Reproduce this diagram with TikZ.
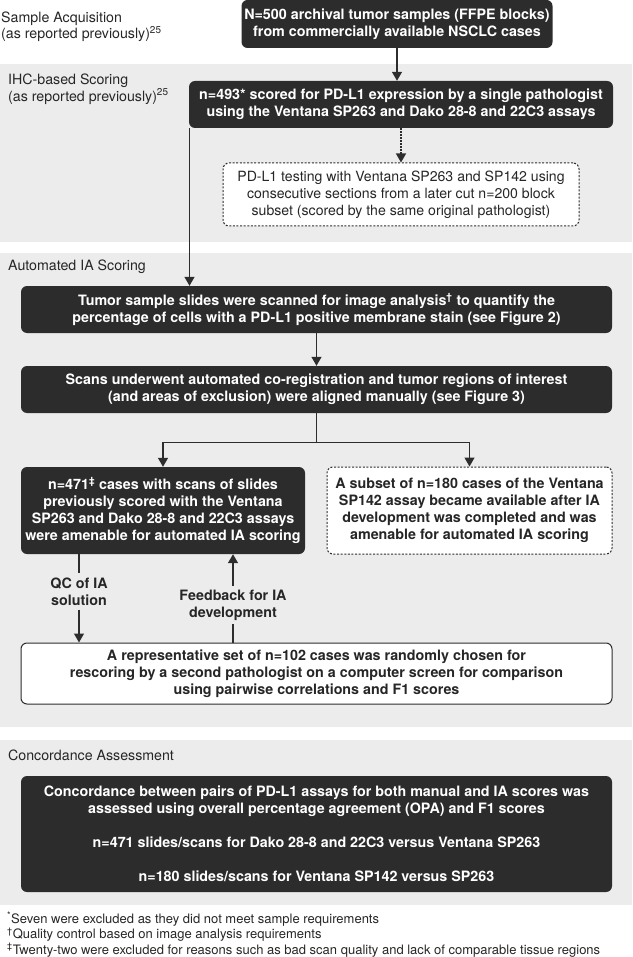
\documentclass[tikz,border=0pt]{standalone}
\usepackage{fontspec}
\setmainfont{TeX Gyre Heros}
\usetikzlibrary{shapes,arrows.meta}
\definecolor{bandgray}{RGB}{236,236,236}
\definecolor{boxdark}{RGB}{44,44,44}
\definecolor{linegray}{RGB}{45,45,45}
\newcommand{\boxfont}{\fontsize{14.3}{17}\selectfont\bfseries}
\newcommand{\plainfont}{\fontsize{14.1}{17}\selectfont}
\newcommand{\stagefont}{\fontsize{14.2}{16.5}\selectfont}
\newcommand{\notefont}{\fontsize{13}{15.5}\selectfont}
\tikzstyle{arrow} = [line width=1.3pt,draw=linegray,-{Triangle[width=10pt,length=9pt]}]
\tikzstyle{link} = [line width=1.3pt,draw=linegray]
\tikzstyle{darkbox} = [rectangle,rounded corners=6pt,fill=boxdark,text=white,inner sep=0pt,align=center,font=\boxfont]
\tikzstyle{dotbox} = [rectangle,rounded corners=6pt,fill=white,draw=linegray,line width=1pt,dash pattern=on 2pt off 1.6pt,inner sep=0pt,align=center,text=black!85]
\tikzstyle{linebox} = [rectangle,rounded corners=6pt,fill=white,draw=linegray,line width=1pt,inner sep=0pt,align=center,font=\boxfont,text=black!85]
\tikzstyle{stage} = [anchor=west,align=left,inner sep=0pt,font=\stagefont,text=black!85]
\tikzstyle{edgelabel} = [align=center,inner xsep=0pt,inner ysep=4pt,font=\boxfont,text=black!85]

\begin{document}
\begin{tikzpicture}[x=1pt,y=-1pt]
        \useasboundingbox (0,0) rectangle (632,957);

        % Grey bands behind the stages
        \fill[bandgray] (0,64) rectangle (632,242);
        \fill[bandgray] (0,253) rectangle (632,727);
        \fill[bandgray] (0,740) rectangle (632,905);

        % Stage titles on the left
        \node[stage] (stacq) at (1,26.5) {Sample Acquisition\\(as reported previously)\textsuperscript{25}};
        \node[stage] (stihc) at (8,89) {IHC-based Scoring\\(as reported previously)\textsuperscript{25}};
        \node[stage] (stia) at (8,267) {Automated IA Scoring};
        \node[stage] (stconc) at (8,755) {Concordance Assessment};

        % Sample acquisition
        \node[darkbox,minimum width=311pt,minimum height=48pt] (acq) at (397,24)
            {N=500 archival tumor samples (FFPE blocks)\\from commercially available NSCLC cases};

        % IHC-based scoring
        \node[darkbox,minimum width=424pt,minimum height=47pt] (ihc) at (401,104.5)
            {n=493* scored for PD-L1 expression by a single pathologist\\using the Ventana SP263 and Dako 28-8 and 22C3 assays};
        \node[dotbox,font=\plainfont,minimum width=356pt,minimum height=63pt] (later) at (401,194.5)
            {PD-L1 testing with Ventana SP263 and SP142 using\\consecutive sections from a later cut n=200 block\\subset (scored by the same original pathologist)};

        % Automated IA scoring
        \node[darkbox,minimum width=591pt,minimum height=47pt] (scan) at (316.5,309.5)
            {Tumor sample slides were scanned for image analysis\textsuperscript{†} to quantify the\\percentage of cells with a PD-L1 positive membrane stain (see Figure 2)};
        \node[darkbox,minimum width=591pt,minimum height=47pt] (coreg) at (316.5,389.5)
            {Scans underwent automated co-registration and tumor regions of interest\\(and areas of exclusion) were aligned manually (see Figure 3)};
        \node[darkbox,minimum width=284pt,minimum height=87pt] (amen) at (163,510.5)
            {n=471\textsuperscript{‡} cases with scans of slides\\previously scored with the Ventana\\SP263 and Dako 28-8 and 22C3 assays\\were amenable for automated IA scoring};
        \node[dotbox,font=\boxfont,minimum width=285pt,minimum height=87pt] (subset) at (469.5,510.5)
            {A subset of n=180 cases of the Ventana\\SP142 assay became available after IA\\development was completed and was\\amenable for automated IA scoring};
        \node[linebox,minimum width=591pt,minimum height=61pt] (rescore) at (316.5,673.5)
            {A representative set of n=102 cases was randomly chosen for\\rescoring by a second pathologist on a computer screen for comparison\\using pairwise correlations and F1 scores};
        \node[edgelabel] (qc) at (79,591.5) {QC of IA\\solution};
        \node[edgelabel] (fb) at (233,605) {Feedback for IA\\development};

        % Concordance assessment
        \node[darkbox,minimum width=591pt,minimum height=116pt] (conc) at (316.5,834)
            {Concordance between pairs of PD-L1 assays for both manual and IA scores was\\assessed using overall percentage agreement (OPA) and F1 scores\\[17pt]
             n=471 slides/scans for Dako 28-8 and 22C3 versus Ventana SP263\\[17pt]
             n=180 slides/scans for Ventana SP142 versus SP263};

        % Footnotes
        \node[stage,font=\notefont] (notes) at (7,934.5)
            {\textsuperscript{*}Seven were excluded as they did not meet sample requirements\\
             \textsuperscript{†}Quality control based on image analysis requirements\\
             \textsuperscript{‡}Twenty-two were excluded for reasons such as bad scan quality and lack of comparable tissue regions};

        % Connectors
        \draw[arrow] (acq.south) -- (acq.south |- ihc.north);
        \draw[arrow,dash pattern=on 1.5pt off 1.5pt] (ihc.south) -- (later.north);
        \draw[arrow] ([xshift=0.7pt]ihc.south west) -- ([xshift=0.7pt]ihc.south west |- scan.north);
        \draw[arrow] (scan.south) -- (coreg.north);
        \draw[link] (coreg.south) -- ++(0,29) coordinate (split);
        \draw[arrow] (split) -| (amen.north);
        \draw[arrow] (split) -| (subset.north);
        \draw[link] (amen.south -| qc.north) -- (qc.north);
        \draw[arrow] (qc.south) -- (qc.south |- rescore.north);
        \draw[link] (rescore.north -| fb.south) -- (fb.south);
        \draw[arrow] (fb.north) -- (fb.north |- amen.south);

\end{tikzpicture}
\end{document}
